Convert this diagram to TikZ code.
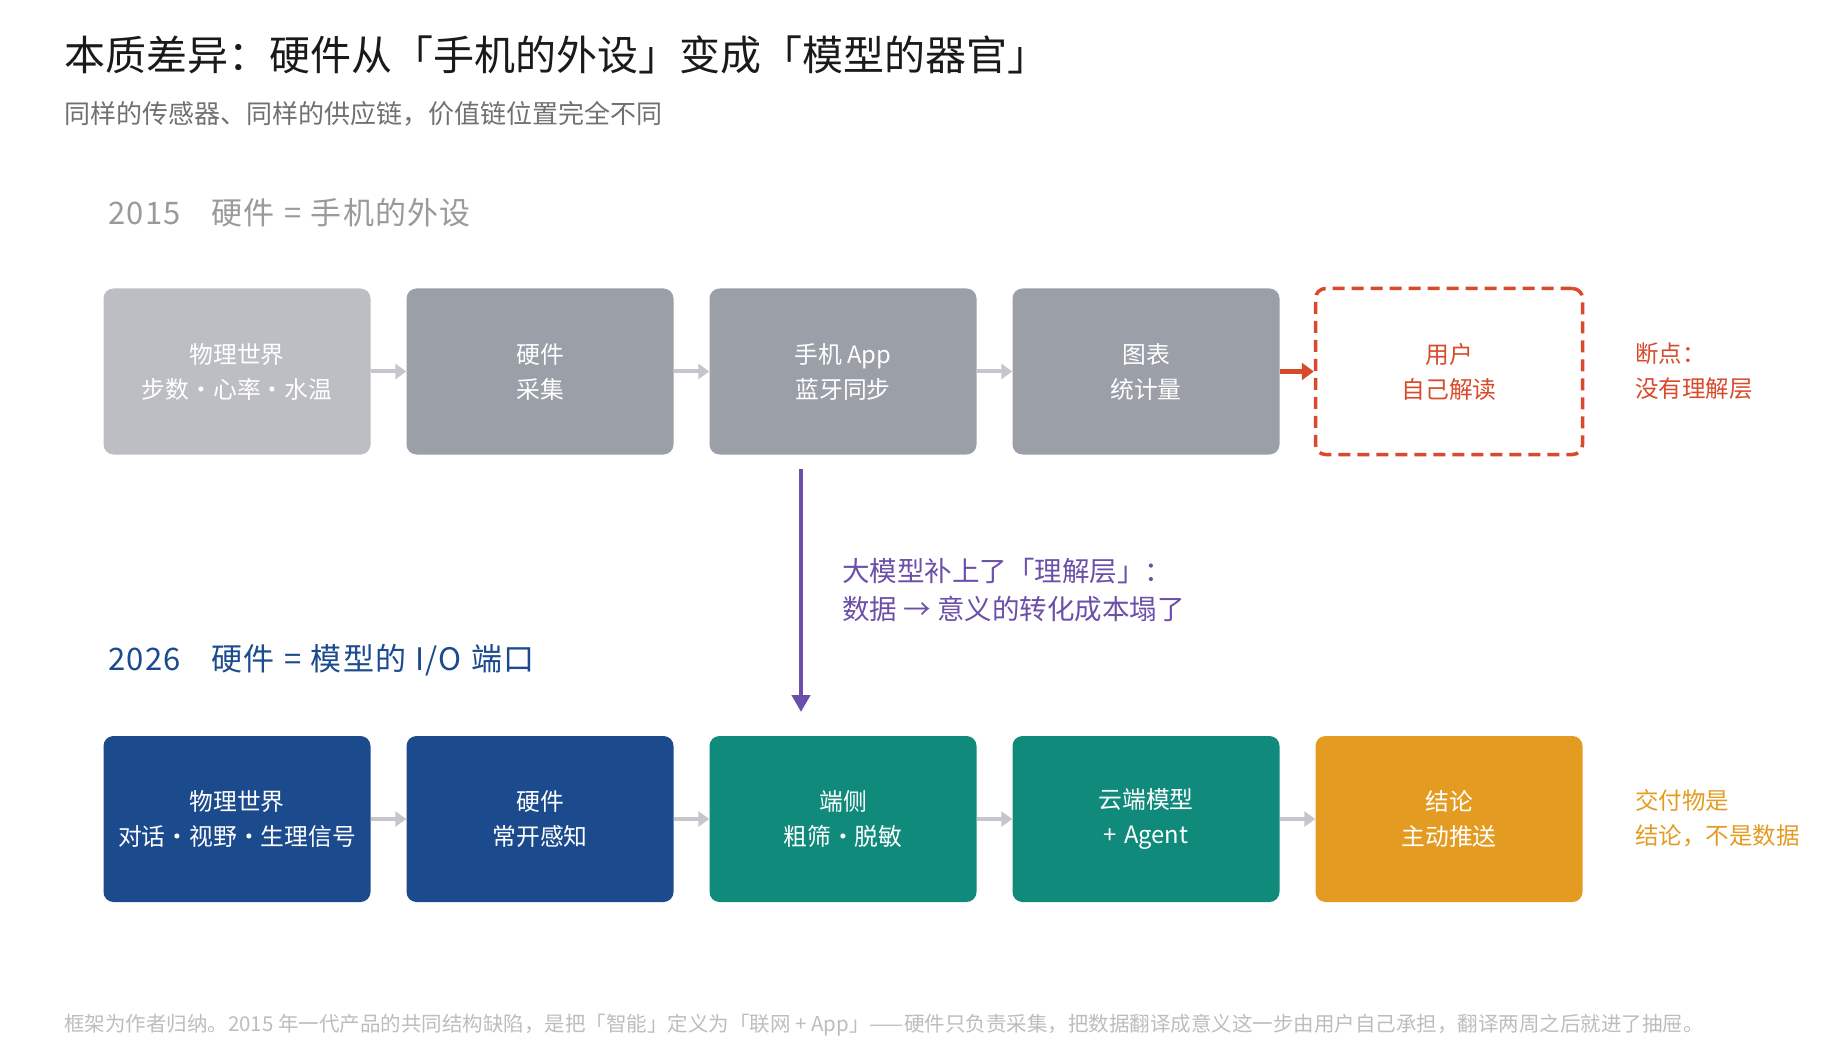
\documentclass[tikz,border=0pt]{standalone}
\usepackage{fontspec}
\setmainfont{Noto Sans CJK SC}
\usetikzlibrary{arrows.meta}
\definecolor{titlec}{HTML}{1A1A1A}
\definecolor{subc}{HTML}{707070}
\definecolor{headgray}{HTML}{9A9A9A}
\definecolor{navy}{HTML}{1B4A8D}
\definecolor{lgray}{HTML}{BCBEC4}
\definecolor{mgray}{HTML}{9A9FA8}
\definecolor{redc}{HTML}{D84A2B}
\definecolor{tealc}{HTML}{0F8A7B}
\definecolor{orangec}{HTML}{E39B21}
\definecolor{purplec}{HTML}{6B4FA8}
\definecolor{arrowgray}{HTML}{C5C6CB}
\definecolor{footc}{HTML}{BDBDBD}
\begin{document}
\begin{tikzpicture}[x=1pt,y=-1pt,
  box/.style={rounded corners=10pt, minimum width=267pt, minimum height=166pt,
    align=center, text=white, inner sep=0pt, font=\fontsize{23.8}{35}\selectfont},
  flow/.style={draw=arrowgray, line width=4pt, -{Triangle[length=11pt,width=15pt]}},
  redflow/.style={draw=redc, line width=4.5pt, -{Triangle[length=12pt,width=17pt]}},
  bigflow/.style={draw=purplec, line width=4.5pt, -{Triangle[length=17pt,width=18pt]}},
  lbl/.style={anchor=west, inner sep=0pt, align=left}
]
\useasboundingbox (0,0) rectangle (1847,1056);

% titles
\node[lbl, text=titlec, font=\fontsize{41}{48}\selectfont] (title) at (64,55) {本质差异：硬件从「手机的外设」变成「模型的器官」};
\node[lbl, text=subc, font=\fontsize{26}{30}\selectfont] (subtitle) at (64,114) {同样的传感器、同样的供应链，价值链位置完全不同};

% row headings
\node[lbl, text=headgray, font=\fontsize{31}{36}\selectfont] (h2015) at (108,213) {\addfontfeatures{LetterSpace=4}2015\hspace{1.0em}硬件\hspace{0.3em}=\hspace{0.3em}手机的外设};
\node[lbl, text=navy, font=\fontsize{31}{36}\selectfont] (h2026) at (108,660) {\addfontfeatures{LetterSpace=4}2026\hspace{1.0em}硬件\hspace{0.3em}=\hspace{0.3em}模型的\hspace{0.3em}I/O\hspace{0.3em}端口};

% row 1
\node[box, fill=lgray] (a1) at (237,371.5) {物理世界\\步数・心率・水温};
\node[box, fill=mgray] (a2) at (540,371.5) {硬件\\采集};
\node[box, fill=mgray] (a3) at (843,371.5) {手机 App\\蓝牙同步};
\node[box, fill=mgray] (a4) at (1146,371.5) {图表\\统计量};
\node[box, draw=redc, line width=3.5pt, dash pattern=on 12pt off 7pt, text=redc] (a5) at (1449,371.5) {用户\\自己解读};
\node[lbl, text=redc, font=\fontsize{23.5}{35}\selectfont] (n1) at (1635,371.5) {断点：\\没有理解层};

\draw[flow] (a1.east) -- (a2.west);
\draw[flow] (a2.east) -- (a3.west);
\draw[flow] (a3.east) -- (a4.west);
\draw[redflow] (a4.east) -- (a5.west);

% row 2
\node[box, fill=navy] (b1) at (237,819) {物理世界\\对话・视野・生理信号};
\node[box, fill=navy] (b2) at (540,819) {硬件\\常开感知};
\node[box, fill=tealc] (b3) at (843,819) {端侧\\粗筛・脱敏};
\node[box, fill=tealc] (b4) at (1146,819) {云端模型\\+\hspace{0.3em}Agent};
\node[box, fill=orangec] (b5) at (1449,819) {结论\\主动推送};
\node[lbl, text=orangec, font=\fontsize{23.5}{35}\selectfont] (n2) at (1635,818) {交付物是\\结论，不是数据};

\draw[flow] (b1.east) -- (b2.west);
\draw[flow] (b2.east) -- (b3.west);
\draw[flow] (b3.east) -- (b4.west);
\draw[flow] (b4.east) -- (b5.west);

% vertical connector
\coordinate (pa) at (801,469);
\coordinate (pb) at (801,712);
\draw[bigflow] (pa) -- (pb);
\node[lbl, text=purplec, font=\fontsize{27.5}{38}\selectfont] (mid) at (842,590) {大模型补上了「理解层」：\\数据 → 意义的转化成本塌了};

% footer
\node[lbl, text=footc, font=\fontsize{20.5}{24}\selectfont] (foot) at (64,1025) {框架为作者归纳。2015 年一代产品的共同结构缺陷，是把「智能」定义为「联网 + App」——硬件只负责采集，把数据翻译成意义这一步由用户自己承担，翻译两周之后就进了抽屉。};
\end{tikzpicture}
\end{document}
